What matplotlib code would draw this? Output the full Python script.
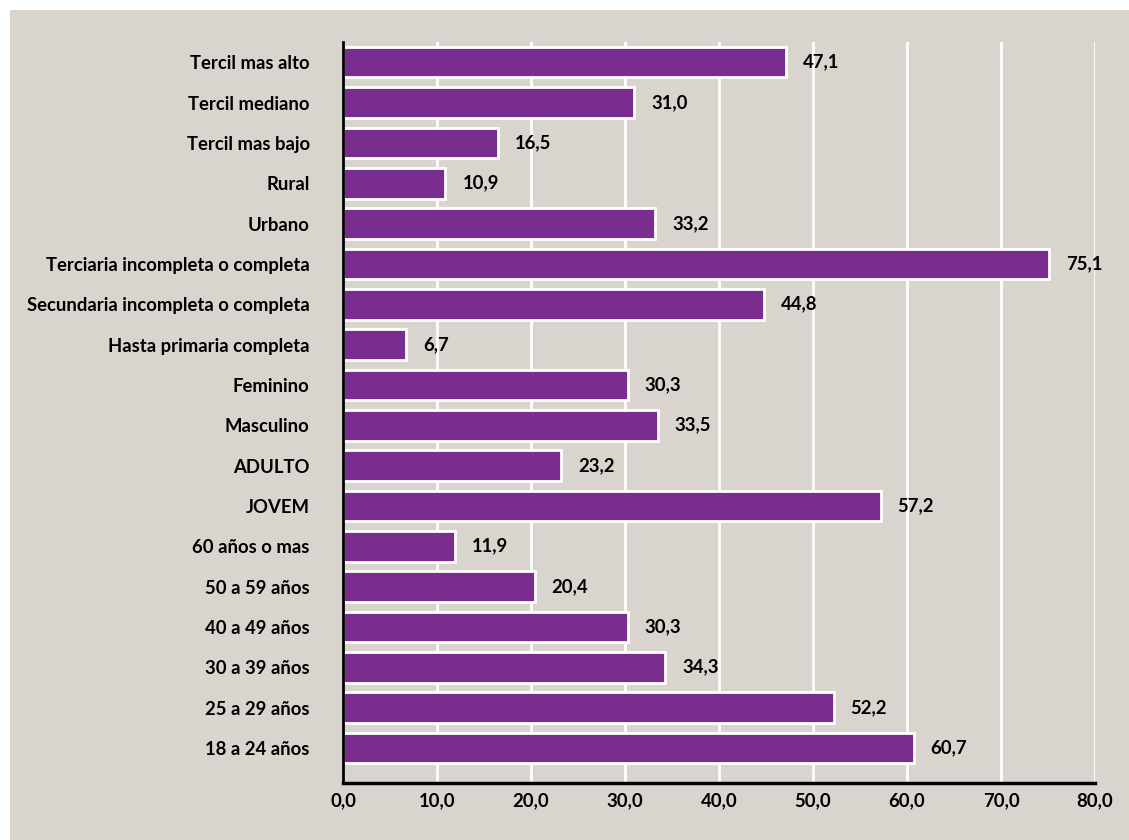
import numpy as np
import matplotlib.pyplot as plt
from matplotlib.patches import Rectangle

plt.rcParams['font.family'] = ['Lato', 'DejaVu Sans']
plt.rcParams['font.weight'] = 'bold'

categorias = ['Tercil mas alto', 'Tercil mediano', 'Tercil mas bajo', 'Rural', 'Urbano',
              'Terciaria incompleta o completa', 'Secundaria incompleta o completa',
              'Hasta primaria completa', 'Feminino', 'Masculino', 'ADULTO', 'JOVEM',
              '60 años o mas', '50 a 59 años', '40 a 49 años', '30 a 39 años',
              '25 a 29 años', '18 a 24 años']
valores = [47.1, 31.0, 16.5, 10.9, 33.2, 75.1, 44.8, 6.7, 30.3, 33.5, 23.2, 57.2,
           11.9, 20.4, 30.3, 34.3, 52.2, 60.7]
ticks = np.arange(0, 81, 10)

fondo = '#D9D5CE'
morado = '#782D8F'
fs = 13.3

fig = plt.figure(figsize=(11.29, 8.40), dpi=100)
# panel gris con margen blanco arriba e izquierda
fig.patches.append(Rectangle((10/1129, 0), 1, 1 - 10/840, transform=fig.transFigure,
                             facecolor=fondo, edgecolor='none', zorder=-10))
ax = fig.add_axes([343/1129, 1 - 783/840, (1095 - 343)/1129, (783 - 42)/840])
ax.set_facecolor(fondo)

y = np.arange(len(categorias))
ax.barh(y, valores, height=0.76, color=morado, edgecolor='white', linewidth=2, zorder=3)
for yi, v in zip(y, valores):
    ax.text(v + 1.8, yi, f'{v:.1f}'.replace('.', ','), va='center', ha='left',
            fontsize=fs, fontweight='bold', zorder=4)

ax.set_xlim(0, 80)
ax.set_ylim(len(categorias) - 1 + 0.87, -0.5)
ax.set_yticks(y)
ax.set_yticklabels(categorias, fontsize=fs, fontweight='bold')
ax.set_xticks(ticks)
ax.set_xticklabels([f'{t:.1f}'.replace('.', ',') for t in ticks], fontsize=fs, fontweight='bold')
ax.tick_params(axis='x', length=0, pad=7)
ax.tick_params(axis='y', length=0, pad=24)
ax.grid(axis='x', color='white', linewidth=2, zorder=1)
for s in ['top', 'right']:
    ax.spines[s].set_visible(False)
ax.spines['left'].set_linewidth(2)
ax.spines['bottom'].set_linewidth(2.5)
ax.spines['left'].set_zorder(5)
ax.spines['bottom'].set_zorder(5)

fig.savefig('out.png', dpi=100, facecolor='white')
